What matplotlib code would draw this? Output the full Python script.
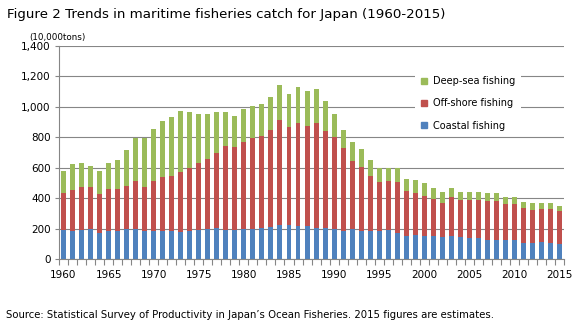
import matplotlib
matplotlib.use("Agg")
import matplotlib.pyplot as plt
import numpy as np
from matplotlib.patches import Patch

years = list(range(1960, 2016))

# catch, 10,000 tons
coastal = [192, 188, 192, 199, 171, 184, 188, 199, 199, 184,
           188, 188, 188, 182, 188, 192, 199, 206, 192, 192,
           199, 199, 206, 212, 225, 225, 221, 217, 208, 208,
           197, 188, 197, 184, 184, 184, 190, 173, 155, 162,
           155, 155, 147, 155, 147, 140, 140, 127, 127, 127,
           127, 109, 109, 114, 107, 101]
offshore_top = [437, 455, 477, 477, 429, 462, 462, 481, 514, 477,
                514, 542, 549, 573, 599, 632, 661, 698, 744, 737,
                770, 796, 809, 849, 914, 868, 897, 877, 897, 844,
                805, 733, 648, 608, 549, 508, 516, 508, 451, 437,
                418, 396, 370, 411, 392, 392, 392, 381, 383, 365,
                365, 337, 324, 330, 330, 317]
total = [580, 626, 634, 612, 580, 634, 652, 717, 798, 798,
         857, 910, 932, 976, 967, 956, 956, 967, 967, 941,
         987, 1006, 1022, 1065, 1144, 1085, 1133, 1105, 1118, 1039,
         954, 851, 770, 726, 652, 599, 599, 599, 527, 521,
         501, 468, 444, 468, 444, 444, 444, 435, 435, 409,
         409, 376, 370, 370, 370, 350]

offshore = [o - c for o, c in zip(offshore_top, coastal)]
deepsea = [t - o for t, o in zip(total, offshore_top)]

BLUE = "#4F81BD"
RED = "#C0504D"
GREEN = "#9BBB59"
GRID = "#868686"

plt.rcParams["font.family"] = ["DejaVu Sans"]

fig = plt.figure(figsize=(5.78, 3.35), dpi=100)
ax = fig.add_axes([0.102, 0.226, 0.874, 0.637])

x = np.arange(len(years))
w = 0.55
ax.bar(x, coastal, w, color=BLUE, zorder=2)
ax.bar(x, offshore, w, bottom=coastal, color=RED, zorder=2)
ax.bar(x, deepsea, w, bottom=offshore_top, color=GREEN, zorder=2)

ax.set_xlim(-0.5, len(years) - 0.5)
ax.set_ylim(0, 1400)
ax.set_yticks(range(0, 1401, 200))
ax.set_yticklabels([f"{v:,}" for v in range(0, 1401, 200)], fontsize=7.5)
ax.yaxis.grid(True, color=GRID, lw=0.8, zorder=0)
ax.set_axisbelow(True)

lab_idx = [i for i, y in enumerate(years) if y % 5 == 0]
ax.set_xticks(lab_idx)
ax.set_xticklabels([str(years[i]) for i in lab_idx], fontsize=7.5)
ax.set_xticks(np.arange(-0.5, len(years)), minor=True)
ax.tick_params(axis="x", which="major", length=0, pad=8)
ax.tick_params(axis="x", which="minor", length=4, color=GRID, width=0.8)
ax.tick_params(axis="y", length=3, color=GRID, width=0.8, pad=3)

for s in ("top", "right"):
    ax.spines[s].set_visible(False)
for s in ("left", "bottom"):
    ax.spines[s].set_color(GRID)
    ax.spines[s].set_linewidth(0.8)

handles = [Patch(color=GREEN, label="Deep-sea fishing"),
           Patch(color=RED, label="Off-shore fishing"),
           Patch(color=BLUE, label="Coastal fishing")]
leg = ax.legend(handles=handles, loc="upper left", bbox_to_anchor=(0.705, 0.885),
                fontsize=7, frameon=True, fancybox=False, edgecolor="none",
                facecolor="white", framealpha=1, handlelength=0.65,
                handleheight=0.65, handletextpad=0.6, labelspacing=1.25,
                borderpad=0.6, borderaxespad=0)
leg.set_zorder(5)

fig.text(0.012, 0.958, "Figure 2 Trends in maritime fisheries catch for Japan (1960-2015)",
         fontsize=9.6, va="center", ha="left")
fig.text(0.05, 0.888, "(10,000tons)", fontsize=6.3, va="center", ha="left")
fig.text(0.01, 0.06, "Source: Statistical Survey of Productivity in Japan\u2019s Ocean Fisheries. "
         "2015 figures are estimates.", fontsize=7.3, va="center", ha="left")

fig.savefig("out.png", dpi=100)
